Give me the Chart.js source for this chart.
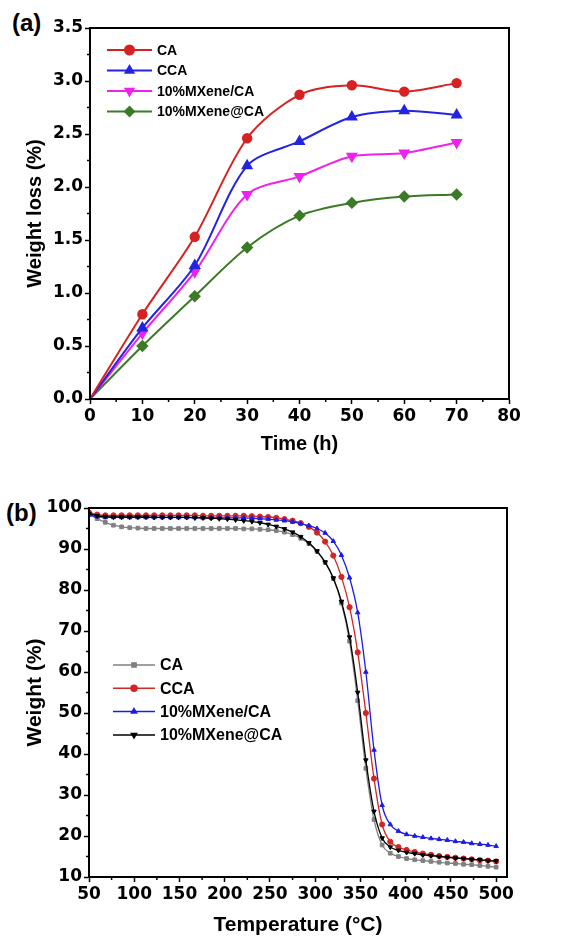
<!DOCTYPE html>
<html>
<head>
<meta charset="utf-8">
<script src="https://cdn.jsdelivr.net/npm/chart.js@4.4.1/dist/chart.umd.min.js"></script>
<style>
  body { margin: 0; background: #fff; width: 575px; height: 941px; position: relative; overflow: hidden; }
  canvas { position: absolute; left: 0; }
  .tag { position: absolute; font: bold 24px "Liberation Sans", Arial, sans-serif; color: #000; }
</style>
</head>
<body>
<div class="tag" style="left:12px;top:9px">(a)</div>
<canvas id="chartA" width="575" height="470" style="top:0"></canvas>
<div class="tag" style="left:6px;top:499px">(b)</div>
<canvas id="chartB" width="575" height="471" style="top:470px"></canvas>

<script>
// (a) weight loss vs time
const timeH = [0, 10, 20, 30, 40, 50, 60, 70];
const lossCA = [0, 0.80, 1.53, 2.46, 2.87, 2.96, 2.90, 2.98];
const lossCCA = [0, 0.67, 1.26, 2.20, 2.43, 2.66, 2.72, 2.68];
const lossMXeneSlashCA = [0, 0.62, 1.20, 1.93, 2.10, 2.29, 2.32, 2.42];
const lossMXeneAtCA = [0, 0.50, 0.97, 1.43, 1.73, 1.85, 1.91, 1.93];

// (b) TGA curves
const tempC = [50, 59, 68, 77, 86, 95, 104, 113, 122, 131, 140, 149, 158, 167, 176, 185, 194,
  203, 212, 221, 230, 239, 248, 257, 266, 275, 284, 293, 302, 311, 320, 329, 338, 347, 356,
  365, 374, 383, 392, 401, 410, 419, 428, 437, 446, 455, 464, 473, 482, 491, 500];
const wtCA = [98.5, 97.4, 96.5, 95.8, 95.4, 95.2, 95.1, 95.0, 95.0, 95.0, 95.0, 95.0, 95.0, 95.0,
  95.0, 95.0, 95.0, 95.0, 95.0, 94.9, 94.9, 94.8, 94.7, 94.5, 94.1, 93.5, 92.6, 91.3, 89.4, 86.7,
  82.8, 76.8, 67.5, 53.0, 36.5, 24.0, 17.8, 15.8, 15.0, 14.5, 14.2, 14.0, 13.8, 13.6, 13.4, 13.3,
  13.1, 13.0, 12.8, 12.6, 12.4];
const wtCCA = [98.9, 98.4, 98.2, 98.2, 98.2, 98.2, 98.2, 98.2, 98.2, 98.2, 98.2, 98.2, 98.2, 98.2,
  98.1, 98.1, 98.1, 98.1, 98.1, 98.1, 98.0, 97.9, 97.8, 97.6, 97.3, 96.9, 96.3, 95.4, 94.0, 91.8,
  88.4, 83.2, 75.8, 64.8, 50.0, 34.0, 22.8, 18.6, 17.3, 16.6, 16.1, 15.7, 15.4, 15.1, 14.9, 14.7,
  14.5, 14.3, 14.1, 14.0, 13.8];
const wtMXeneSlashCA = [98.3, 97.9, 97.7, 97.7, 97.7, 97.7, 97.7, 97.7, 97.7, 97.7, 97.7, 97.7,
  97.7, 97.7, 97.6, 97.6, 97.6, 97.6, 97.6, 97.6, 97.5, 97.4, 97.3, 97.1, 96.9, 96.6, 96.2, 95.7,
  95.0, 93.9, 91.9, 88.5, 83.0, 74.5, 60.0, 41.0, 27.5, 22.8, 21.2, 20.4, 20.0, 19.7, 19.4, 19.2,
  19.0, 18.7, 18.5, 18.2, 18.0, 17.8, 17.5];
const wtMXeneAtCA = [98.6, 98.1, 97.9, 97.8, 97.8, 97.8, 97.8, 97.8, 97.7, 97.7, 97.7, 97.7, 97.7,
  97.6, 97.6, 97.5, 97.4, 97.3, 97.1, 96.9, 96.7, 96.4, 96.0, 95.5, 94.9, 94.1, 93.0, 91.5, 89.5,
  86.8, 82.9, 77.2, 68.5, 55.0, 38.5, 26.0, 19.5, 17.3, 16.5, 16.0, 15.7, 15.4, 15.2, 15.0, 14.8,
  14.6, 14.5, 14.3, 14.2, 14.0, 13.9];

const tickFont = { family: '"DejaVu Sans", sans-serif', size: 17, weight: 'bold' };
const titleFont = (s) => ({ family: '"Liberation Sans", Arial, sans-serif', size: s, weight: 'bold' });

function pairs(xs, ys) {
  return xs.map((x, i) => ({ x: x, y: ys[i] }));
}

function marker(ctx, style, rot, r, x, y) {
  if (Chart.helpers && Chart.helpers.drawPoint) {
    Chart.helpers.drawPoint(ctx, { pointStyle: style, rotation: rot || 0, radius: r, borderWidth: 1 }, x, y);
  } else {
    ctx.beginPath(); ctx.arc(x, y, r, 0, Math.PI * 2); ctx.fill(); ctx.stroke();
  }
}

// box frame + minor ticks
const framePlugin = {
  id: 'frame',
  afterDraw(chart) {
    const { ctx, chartArea: a } = chart;
    ctx.save();
    ctx.strokeStyle = '#000';
    ctx.lineWidth = 2;
    ctx.strokeRect(a.left, a.top, a.right - a.left, a.bottom - a.top);
    ctx.lineWidth = 1.5;
    ctx.beginPath();
    const xs = chart.scales.x, ys = chart.scales.y;
    for (let i = 0; i < xs.ticks.length - 1; i++) {
      const px = xs.getPixelForValue((xs.ticks[i].value + xs.ticks[i + 1].value) / 2);
      ctx.moveTo(px, a.bottom); ctx.lineTo(px, a.bottom + 3);
    }
    for (let i = 0; i < ys.ticks.length - 1; i++) {
      const py = ys.getPixelForValue((ys.ticks[i].value + ys.ticks[i + 1].value) / 2);
      ctx.moveTo(a.left, py); ctx.lineTo(a.left - 3, py);
    }
    ctx.stroke();
    ctx.restore();
  }
};

// legend drawn inside the plot
const legendPlugin = {
  id: 'boxLegend',
  afterDraw(chart, args, o) {
    const ctx = chart.ctx;
    ctx.save();
    chart.data.datasets.forEach((ds, i) => {
      const y = o.y + i * o.gap;
      ctx.strokeStyle = ds.borderColor;
      ctx.lineWidth = o.lineWidth;
      ctx.beginPath();
      ctx.moveTo(o.x, y); ctx.lineTo(o.x + o.len, y);
      ctx.stroke();
      ctx.fillStyle = ds.pointBackgroundColor;
      ctx.strokeStyle = ds.borderColor;
      marker(ctx, ds.pointStyle, ds.pointRotation, o.r, o.x + o.len / 2, y);
      ctx.fillStyle = '#000';
      ctx.font = o.font;
      ctx.textBaseline = 'middle';
      ctx.fillText(ds.label, o.x + o.len + 5, y + 1);
    });
    ctx.restore();
  }
};

function axis(min, max, step, title, titleSize, pad, fitFn, fmt) {
  return {
    type: 'linear', min: min, max: max,
    ticks: { stepSize: step, includeBounds: false, font: tickFont, color: '#000', padding: 2,
      callback: fmt || ((v) => v) },
    grid: { drawOnChartArea: false, drawTicks: true, tickLength: 5, tickWidth: 1.5, tickColor: '#000' },
    border: { color: '#000', width: 2 },
    title: { display: true, text: title, color: '#000', font: titleFont(titleSize), padding: pad },
    afterFit: fitFn
  };
}

function dsA(label, ys, color, style, rot, r) {
  return {
    label: label, data: pairs(timeH, ys), borderColor: color, backgroundColor: color,
    pointBackgroundColor: color, pointBorderColor: color, pointStyle: style, pointRotation: rot,
    pointRadius: (c) => (c.dataIndex === 0 ? 0 : r), borderWidth: 2, tension: 0.3
  };
}

function dsB(label, ys, color, style, rot, order) {
  return {
    label: label, data: pairs(tempC, ys), borderColor: color, backgroundColor: color,
    pointBackgroundColor: color, pointBorderColor: color, pointStyle: style, pointRotation: rot,
    pointRadius: 2.6, pointBorderWidth: 1, borderWidth: 1.3, order: order,
    cubicInterpolationMode: 'monotone'
  };
}

new Chart(document.getElementById('chartA'), {
  type: 'line',
  data: {
    datasets: [
      dsA('CA', lossCA, '#d62222', 'circle', 0, 4.2),
      dsA('CCA', lossCCA, '#2424e0', 'triangle', 0, 5),
      dsA('10%MXene/CA', lossMXeneSlashCA, '#ee22ee', 'triangle', 180, 5),
      dsA('10%MXene@CA', lossMXeneAtCA, '#3c7a28', 'rectRot', 0, 4.8)
    ]
  },
  options: {
    responsive: false, animation: false, devicePixelRatio: 1,
    layout: { padding: { left: 0, top: 28, right: 66, bottom: 0 } },
    plugins: {
      legend: { display: false }, tooltip: { enabled: false },
      boxLegend: { x: 107, y: 50, gap: 20.5, len: 45, r: 4.5, lineWidth: 2,
        font: 'bold 14px "Liberation Sans", Arial, sans-serif' }
    },
    scales: {
      x: axis(0, 80, 10, 'Time (h)', 20, { top: 0, bottom: 14 }, (s) => { s.height = 71; }),
      y: axis(0, 3.5, 0.5, 'Weight loss (%)', 20, { top: 23, bottom: 0 }, (s) => { s.width = 90; },
        (v) => v.toFixed(1))
    }
  },
  plugins: [framePlugin, legendPlugin]
});

new Chart(document.getElementById('chartB'), {
  type: 'line',
  data: {
    datasets: [
      dsB('CA', wtCA, '#808080', 'rect', 0, 4),
      dsB('CCA', wtCCA, '#d42525', 'circle', 0, 3),
      dsB('10%MXene/CA', wtMXeneSlashCA, '#1c1ce6', 'triangle', 0, 2),
      dsB('10%MXene@CA', wtMXeneAtCA, '#000000', 'triangle', 180, 1)
    ]
  },
  options: {
    responsive: false, animation: false, devicePixelRatio: 1,
    layout: { padding: { left: 0, top: 38, right: 68, bottom: 0 } },
    plugins: {
      legend: { display: false }, tooltip: { enabled: false },
      boxLegend: { x: 113, y: 195, gap: 23.3, len: 42, r: 3, lineWidth: 1.5,
        font: 'bold 16px "Liberation Sans", Arial, sans-serif' }
    },
    scales: {
      x: axis(50, 512, 50, 'Temperature (°C)', 21, { top: 0, bottom: 3 }, (s) => { s.height = 64; }),
      y: axis(10, 100, 10, 'Weight (%)', 21, { top: 23, bottom: 0 }, (s) => { s.width = 89; })
    }
  },
  plugins: [framePlugin, legendPlugin]
});
</script>
</body>
</html>
